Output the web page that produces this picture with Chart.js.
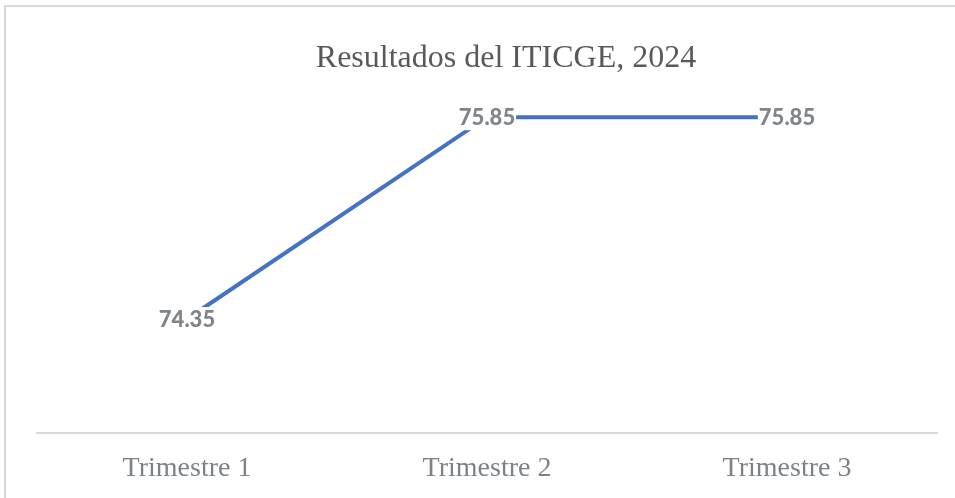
<!DOCTYPE html>
<html>
<head>
<meta charset="utf-8">
<script src="https://cdn.jsdelivr.net/npm/chart.js@4.4.1/dist/chart.umd.min.js"></script>
<style>
  html, body { margin: 0; padding: 0; background: #fff; overflow: hidden; }
  #wrap { position: relative; width: 955px; height: 498px; }
</style>
</head>
<body>
<div id="wrap"><canvas id="myChart" width="955" height="498"></canvas></div>
<script>
const categories = ["Trimestre 1", "Trimestre 2", "Trimestre 3"];
const iticgeValues = [74.35, 75.85, 75.85];
const chartTitle = "Resultados del ITICGE, 2024";

const ctx = document.getElementById("myChart");

// labels centered on points, white box under them (like excel)
const pointLabels = {
  id: "pointLabels",
  afterDatasetsDraw(chart) {
    const c = chart.ctx;
    const meta = chart.getDatasetMeta(0);
    c.save();
    c.font = "900 22px Lato";
    c.textAlign = "center";
    c.textBaseline = "middle";
    meta.data.forEach(function (pt, i) {
      const txt = iticgeValues[i].toFixed(2);
      const w = c.measureText(txt).width;
      c.fillStyle = "#ffffff";
      c.fillRect(pt.x - w / 2 - 1, pt.y - 12, w + 2, 25);
      c.fillStyle = "#7f8589";
      c.fillText(txt, pt.x, pt.y + 1);
    });
    c.restore();
  },
};

// border (only left/top visible in the original) + title, which sits a bit right of center
const chartFrame = {
  id: "chartFrame",
  beforeDraw(chart) {
    const c = chart.ctx;
    c.save();
    c.strokeStyle = "#d9d9d9";
    c.lineWidth = 2;
    c.beginPath();
    c.moveTo(5, chart.height + 5);
    c.lineTo(5, 6);
    c.lineTo(chart.width + 5, 6);
    c.stroke();
    c.fillStyle = "#595959";
    c.font = "32px 'Liberation Serif'";
    c.textAlign = "center";
    c.textBaseline = "middle";
    c.fillText(chartTitle, 506, 59);
    c.restore();
  },
};

const chart = new Chart(ctx, {
  type: "line",
  data: {
    labels: categories,
    datasets: [
      {
        label: "ITICGE",
        data: iticgeValues,
        borderColor: "#4472c4",
        borderWidth: 4,
        pointRadius: 0,
        tension: 0,
      },
    ],
  },
  options: {
    responsive: false,
    animation: false,
    layout: {
      padding: { left: 37, right: 18, top: 97, bottom: -5 },
    },
    plugins: {
      legend: { display: false },
      tooltip: { enabled: false },
      title: { display: false },
    },
    scales: {
      x: {
        offset: true,
        grid: { display: false, drawTicks: false },
        border: { display: true, color: "#d9d9d9", width: 2 },
        ticks: {
          color: "#7c8286",
          padding: 18,
          maxRotation: 0,
          font: { family: "Liberation Serif", size: 28 },
        },
      },
      y: {
        display: false,
        min: 73.5,
        max: 76,
      },
    },
  },
  plugins: [chartFrame, pointLabels],
});
</script>
</body>
</html>
